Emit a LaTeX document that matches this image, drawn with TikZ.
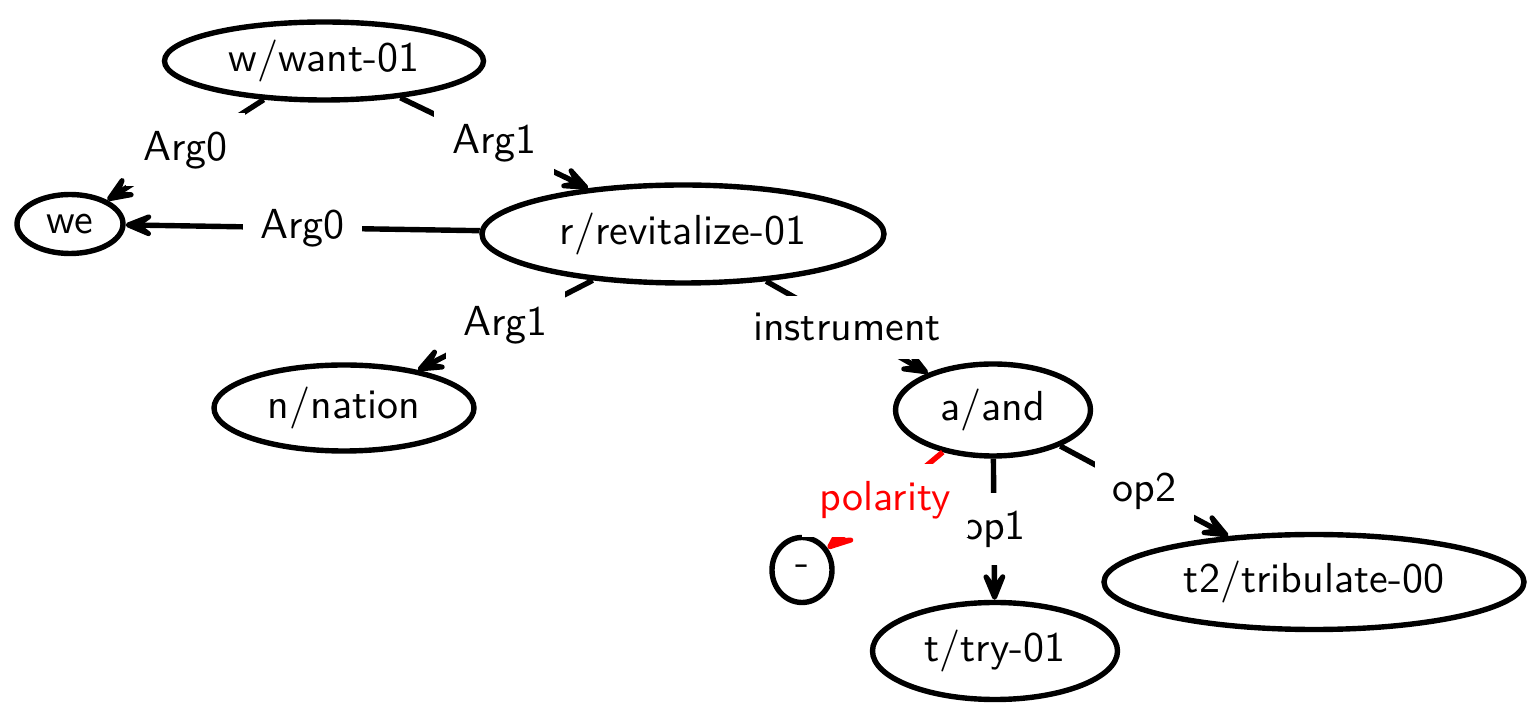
\documentclass[tikz,border=0pt]{standalone}
\usepackage{fontspec}
\usetikzlibrary{shapes.geometric,arrows.meta}
\begin{document}
\begin{tikzpicture}[x=0.25pt,y=-0.25pt,
  amr/.style={ellipse,draw,line width=1.35pt,inner sep=0pt,font=\sffamily\fontsize{10.5}{12}\selectfont},
  rel/.style={line width=1.35pt,-{Stealth[length=11pt,width=9pt,inset=6pt,round]}},
  lbl/.style={fill=white,inner sep=4.4pt,font=\sffamily\fontsize{10.5}{12}\selectfont}]
\useasboundingbox (0,0) rectangle (1532,705);
\node[amr,minimum width=79.75pt,minimum height=19.5pt] (w) at (324,61) {w/want-01};
\node[amr,minimum width=26.5pt,minimum height=14.75pt] (we) at (70,224) {we};
\node[amr,minimum width=100.5pt,minimum height=24.5pt] (r) at (683,234) {r/revitalize-01};
\node[amr,minimum width=65pt,minimum height=21.5pt] (n) at (344,408) {n/nation};
\node[amr,minimum width=48.75pt,minimum height=23pt] (a) at (993,410) {a/and};
\node[amr,minimum width=15pt,minimum height=16.25pt] (m) at (802,570) {-};
\node[amr,minimum width=61.25pt,minimum height=24.25pt] (t) at (995,651) {t/try-01};
\node[amr,minimum width=105pt,minimum height=23.75pt] (t2) at (1314,582) {t2/tribulate-00};
\draw[rel] (w) -- node[lbl] {Arg0} (we);
\draw[rel] (w) -- node[lbl] {Arg1} (r);
\draw[rel] (r) -- node[lbl] {Arg0} (we);
\draw[rel] (r) -- node[lbl] {Arg1} (n);
\draw[rel] (r) -- node[lbl] {instrument} (a);
\draw[rel] (a) -- node[lbl] {op1} (t);
\draw[rel] (a) -- node[lbl] {op2} (t2);
\draw[rel,red] (a) -- node[lbl,text=red] {polarity} (m);
\end{tikzpicture}
\end{document}
